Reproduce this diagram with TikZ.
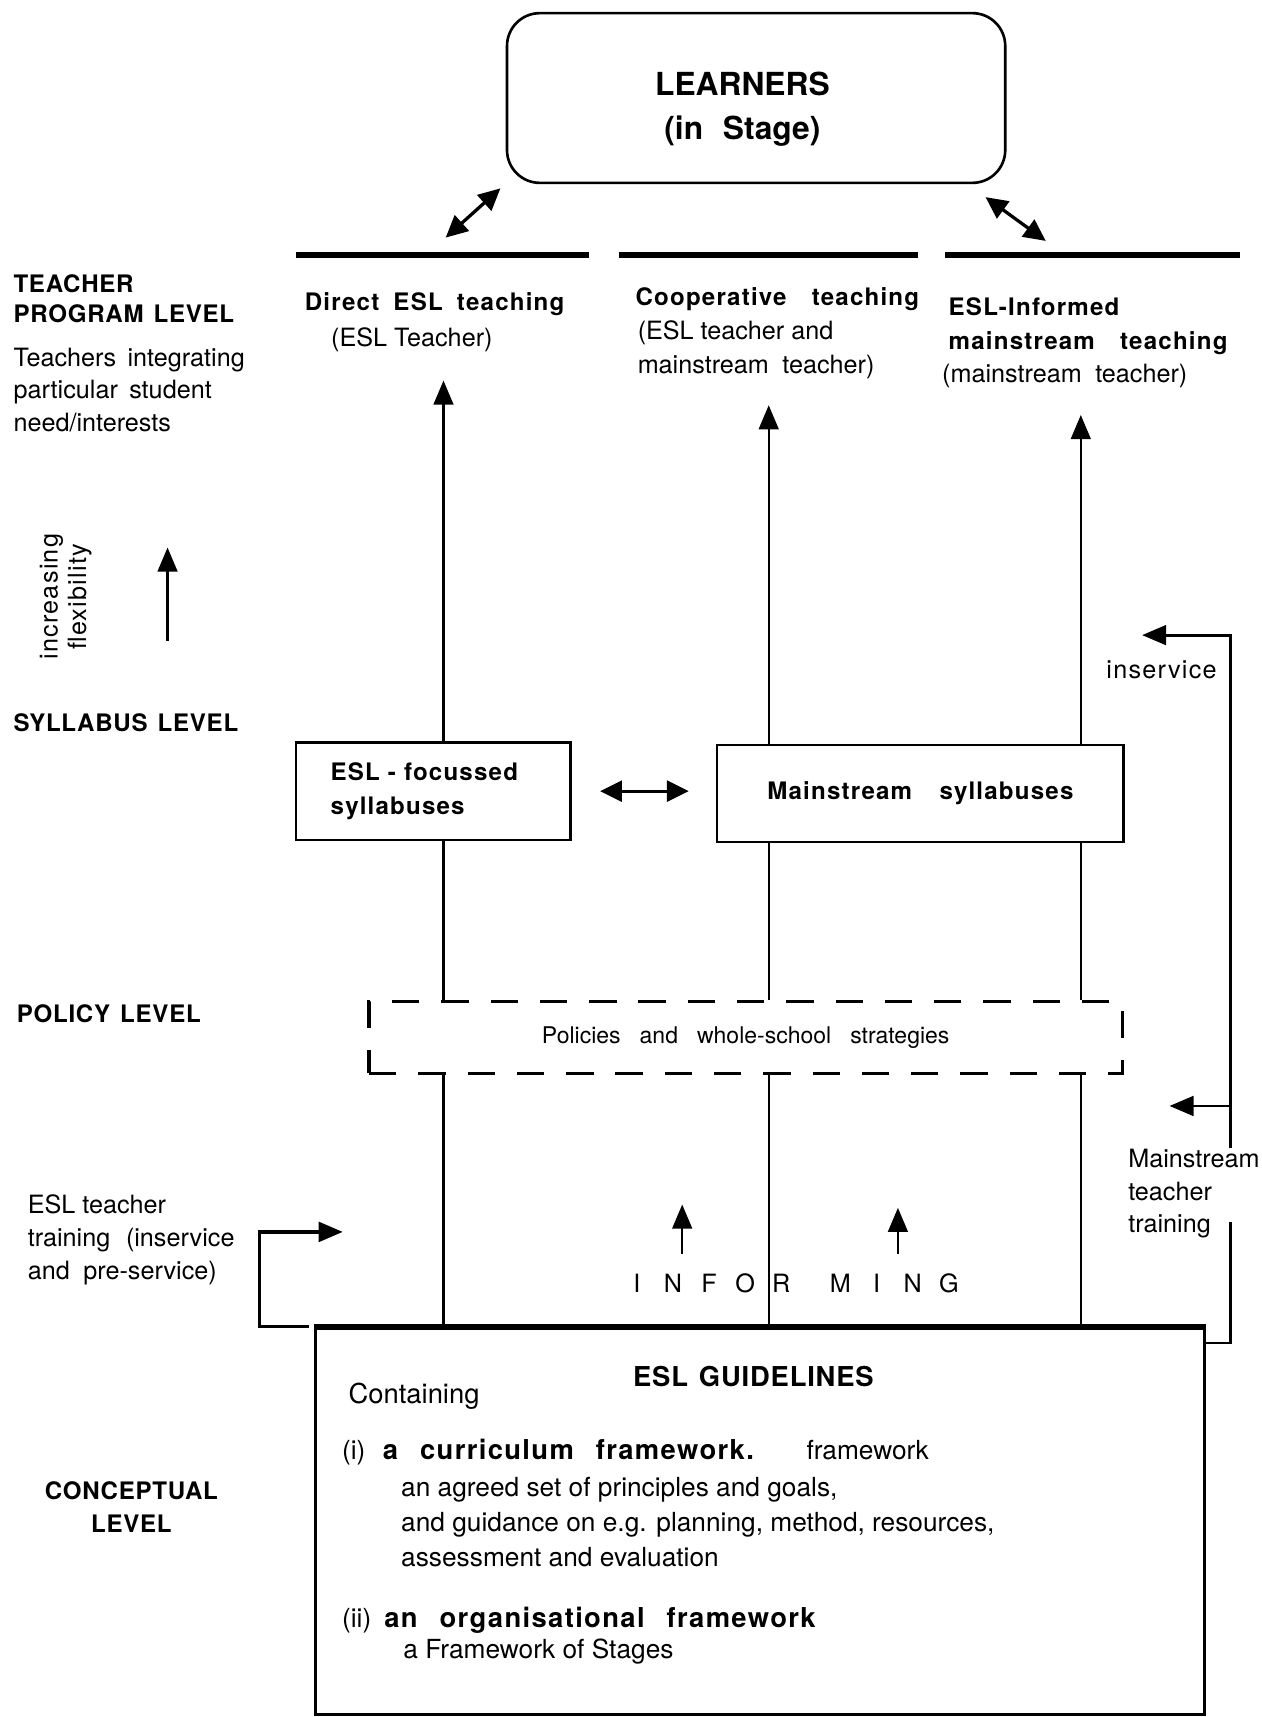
\documentclass[tikz,border=0pt]{standalone}
\usepackage{fontspec}
\setmainfont{TeX Gyre Heros}
\newfontfamily\headfont[LetterSpace=5]{TeX Gyre Heros}
\newfontfamily\levelfont[LetterSpace=3]{TeX Gyre Heros}
\newfontfamily\bodyfont{TeX Gyre Heros}
\usetikzlibrary{positioning}
\usetikzlibrary{arrows.meta}
% word spacing by hand
\newcommand{\levelsp}{\spaceskip=4.6pt\relax}
\newcommand{\headsp}{\spaceskip=6.5pt\relax}
\newcommand{\policysp}{\spaceskip=8.7pt\relax}
\newcommand{\titlesp}{\spaceskip=5pt\relax}
\tikzset{
  levelname/.style={anchor=west,inner sep=0pt,align=left,
                    font=\levelfont\bfseries\fontsize{11}{13.5}\selectfont\levelsp},
  remark/.style={anchor=west,inner sep=0pt,align=left,
                 font=\bodyfont\fontsize{11.5}{15}\selectfont},
  teaching/.style={anchor=west,inner sep=0pt,align=left,
                   font=\bodyfont\fontsize{11.5}{15.5}\selectfont},
  syllabus/.style={rectangle,draw,line width=1pt,minimum height=44.5pt,
                   font=\headfont\bfseries\fontsize{11}{15.5}\selectfont\headsp},
  strategies/.style={rectangle,draw,line width=1.4pt,
                     dash pattern=on 12.5pt off 10pt,
                     font=\bodyfont\fontsize{10.5}{13}\selectfont\policysp},
  guidetext/.style={anchor=west,inner sep=0pt,align=left,
                    font=\bodyfont\fontsize{12}{16}\selectfont},
  thickbar/.style={line width=2.6pt},
  link/.style={line width=1pt},
  uparrow/.style={-{Triangle[length=11pt,width=9pt]},line width=1.1pt},
  twoway/.style={{Triangle[length=10pt,width=9.5pt]}-{Triangle[length=10pt,width=9.5pt]},
                 line width=1.5pt},
}
\newcommand{\pitch}[1]{\makebox[16.5pt]{#1}}
\newcommand{\hd}[1]{{\headfont\bfseries\fontsize{11}{15.5}\selectfont\headsp #1}}
\newcommand{\gb}[1]{{\headfont\bfseries\fontsize{12.5}{16}\selectfont\spaceskip=10pt\relax #1}}

\begin{document}
\begin{tikzpicture}[x=0.5pt,y=-0.5pt]
  \useasboundingbox (0,0) rectangle (1152,1568);

  % columns of the three teaching programs
  \coordinate (colA) at (405,0);
  \coordinate (colB) at (702,0);
  \coordinate (colC) at (987,0);

  % learners on top
  \node[draw,rounded corners=15pt,line width=1.2pt,
        minimum width=227.5pt,minimum height=77.5pt]
      (learners) at (690.5,89.5) {};
  \node[align=center,inner sep=0pt,
        font=\bodyfont\bfseries\fontsize{14.5}{20}\selectfont]
      (learnerstext) at (678,100) {LEARNERS\\(in\hspace{9pt}Stage)};

  \foreach \l/\r in {270/538,565/838,863/1132} {
    \draw[thickbar] (\l,233) -- (\r,233);
  }
  \coordinate (lrnL1) at (457,172);
  \coordinate (lrnL2) at (407,217);
  \coordinate (lrnR1) at (900,180);
  \coordinate (lrnR2) at (955,220);
  \draw[twoway] (lrnL1) -- (lrnL2);
  \draw[twoway] (lrnR1) -- (lrnR2);

  % level names on the left
  \node[levelname] (program) at (12,273) {TEACHER\\PROGRAM LEVEL};
  \node[remark,font=\bodyfont\fontsize{11.5}{14.75}\selectfont]
      (integrating) at (12,356)
      {Teachers\hspace{2pt} integrating\\particular\hspace{2pt} student\\need/interests};
  \node[remark,rotate=90,anchor=center,align=center,
        font=\headfont\fontsize{11.5}{13}\selectfont]
      (flex) at (60,545) {increasing\\flexibility};
  \coordinate (flexlow) at (153,585);
  \coordinate (flexhigh) at (153,500);
  \draw[uparrow] (flexlow) -- (flexhigh);
  \node[levelname] (syllabuslevel) at (12,660) {SYLLABUS LEVEL};
  \node[levelname] (policylevel) at (15,926) {POLICY LEVEL};
  \node[levelname,anchor=center,align=center,
        font=\levelfont\bfseries\fontsize{11}{15}\selectfont]
      (conceptual) at (120,1376) {CONCEPTUAL\\LEVEL};

  % teacher program level
  \node[teaching] (direct) at (278,294)
      {\hd{Direct ESL teaching}\\[1pt]
       \hspace*{12pt}(ESL Teacher)};
  \node[teaching] (coop) at (580,304)
      {\hd{Cooperative\hspace{5pt} teaching}\\
       \hspace*{1pt}(ESL teacher and\\\hspace*{1pt}mainstream\hspace{3pt} teacher)};
  \node[teaching] (informed) at (860,313)
      {\hspace*{3pt}\hd{ESL-Informed}\\
       \hspace*{3pt}\hd{mainstream\hspace{5pt} teaching}\\
       (mainstream\hspace{3pt} teacher)};

  % syllabus level
  \node[syllabus,minimum width=125.5pt,text width=93.5pt,inner xsep=16pt,
        align=left] (eslsyl) at (395.5,722.5) {ESL - focussed\\syllabuses};
  \node[syllabus,minimum width=185.5pt] (mainsyl) at (840.5,724.5)
      {Mainstream\hspace{6pt} syllabuses};
  \draw[twoway,shorten <=13pt,shorten >=12.5pt]
      (eslsyl.east) -- (mainsyl.west |- eslsyl.east);

  \draw[uparrow,shorten >=13pt] (eslsyl.north -| colA) -- (direct.south -| colA);
  \draw[uparrow,shorten >=12pt] (mainsyl.north -| colB) -- (coop.south -| colB);
  \draw[uparrow,shorten >=12pt] (mainsyl.north -| colC) -- (informed.south -| colC);

  % policy level
  \node[strategies,minimum width=344pt,minimum height=32.5pt]
      (policy) at (681,947.5) {Policies and whole-school strategies};
  \draw[link] (eslsyl.south -| colA) -- (policy.north -| colA);
  \foreach \c in {colB,colC} {
    \draw[link] (mainsyl.south -| \c) -- (policy.north -| \c);
  }

  % conceptual level
  \node[draw,line width=1.5pt,minimum width=406pt,minimum height=176.5pt]
      (guide) at (694,1389.5) {};
  \draw[line width=2.6pt] (guide.north west) -- (guide.north east);
  \foreach \c in {colA,colB,colC} {
    \draw[link] (policy.south -| \c) -- (guide.north -| \c);
  }

  \node[font=\levelfont\bfseries\fontsize{12.5}{16}\selectfont\titlesp]
      (guidetitle) at (688,1257) {ESL GUIDELINES};
  \node[guidetext,font=\bodyfont\fontsize{12.5}{16}\selectfont]
      (containing) at (318,1275) {Containing};
  \node[guidetext] (curriculum) at (312,1326)
      {(i)\hspace{8pt}\gb{a curriculum framework.}\hspace{24pt}framework};
  \node[guidetext] (currdesc) at (366,1390)
      {an agreed set of principles and goals,\\
       and guidance on e.g. planning, method, resources,\\
       assessment and evaluation};
  \node[guidetext] (organisation) at (312,1480)
      {(ii)\hspace{6pt}\gb{an organisational framework}};
  \node[guidetext] (orgdesc) at (368,1508) {a Framework of Stages};

  % informing
  \node[inner sep=0pt,font=\bodyfont\fontsize{11.5}{14}\selectfont]
      (informing) at (724,1172)
      {\pitch{I}\pitch{N}\pitch{F}\pitch{O}\pitch{R}\hspace{10.5pt}%
       \pitch{M}\pitch{I}\pitch{N}\pitch{G}};
  \coordinate (infL) at (623,1100);
  \coordinate (infR) at (820,1103);
  \draw[uparrow,shorten <=9pt] (informing.north -| infL) -- (infL);
  \draw[uparrow,shorten <=9pt] (informing.north -| infR) -- (infR);

  % ESL teacher training
  \node[remark] (esltraining) at (25,1132)
      {ESL teacher\\training\hspace{4pt} (inservice\\and\hspace{3pt} pre-service)};
  \coordinate (eslcorner) at (237,0);
  \coordinate (esltip) at (313,1125);
  \draw[uparrow,line width=1.5pt] ([xshift=-2pt]guide.north west)
      -- (guide.north west -| eslcorner) |- (esltip);

  % mainstream teacher training
  \node[remark] (mtraining) at (1030,1090)
      {Mainstream\\teacher\\training};
  \node[remark,font=\headfont\fontsize{11.5}{15}\selectfont]
      (inservice) at (1010,612) {inservice};
  \coordinate (mttlow) at (1124,1116);
  \coordinate (mtthigh) at (mtraining.north -| mttlow);
  \coordinate (insvtip) at (1043,580);
  \coordinate (poltip) at (1068,1010);
  \draw[link,line width=1.3pt] ([yshift=-7.5pt]guide.north east) -| (mttlow);
  \draw[uparrow,line width=1.3pt] (mtthigh) |- (insvtip);
  \draw[uparrow,line width=1.3pt] (mtthigh |- poltip) -- (poltip);
\end{tikzpicture}
\end{document}
